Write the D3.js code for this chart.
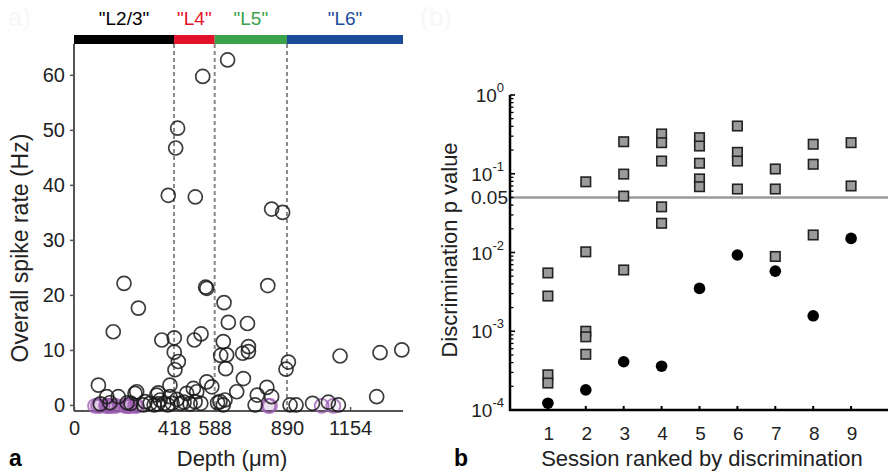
<!DOCTYPE html>
<html>
<head>
<meta charset="utf-8">
<script src="https://cdn.jsdelivr.net/npm/d3@7"></script>
<style>
  html, body { margin: 0; padding: 0; background: #fff; }
  svg { display: block; font-family: "Liberation Sans", Arial, sans-serif; }
</style>
</head>
<body>
<svg id="fig" width="888" height="475"></svg>
<script>
// ---- Panel a: spike rate vs depth ----
const layerNames = ['"L2/3"', '"L4"', '"L5"', '"L6"'];
const layerBounds = [0, 418, 588, 890, 1375];
const layerColors = ["#000000", "#e3122b", "#3aa24a", "#1c4b9a"];
const depthTicks = [0, 418, 588, 890, 1154];
const rateTicks = [0, 10, 20, 30, 40, 50, 60];

// units shown as black open circles: depth (um) and rate (Hz)
const unitDepth = [642, 538, 433, 425, 394, 507, 826, 872,
  209, 550, 555, 810, 269, 627, 645, 725,
  164, 367, 419, 503, 531, 419, 436, 422,
  624, 613, 638, 705, 729, 729, 634,
  708, 680, 766, 806, 826, 757, 896, 886,
  903, 928, 997, 1063, 1105, 1112, 1265, 1279, 1370,
  102, 137, 185, 255, 262, 297, 318, 346, 360, 352, 401, 401, 376, 410, 446,
  471, 499, 513, 506, 555, 576, 610, 631, 624,
  110, 150, 222, 238, 290, 335, 350, 392, 430, 460, 485, 530, 600];
const unitRate = [62.7, 59.7, 50.3, 46.7, 38.1, 37.8, 35.6, 35.0,
  22.1, 21.4, 21.2, 21.7, 17.6, 18.6, 15.0, 14.8,
  13.3, 11.8, 12.2, 11.8, 12.9, 9.6, 7.9, 6.4,
  11.5, 9.0, 9.1, 9.4, 10.6, 9.7, 6.6,
  4.8, 2.4, 1.8, 3.2, 1.5, 0, 7.8, 6.5,
  0, 0, 0.3, 0.5, 0, 8.9, 1.5, 9.5, 10.0,
  3.6, 1.5, 1.5, 2.1, 2.4, 0.6, 0.3, 1.8, 0.9, 2.2, 3.6, 1.5, 0.3, 0.3, 0.3,
  2.1, 3.0, 2.4, 0.6, 4.2, 3.3, 0.6, 0.9, 0,
  0.2, 0.4, 0.4, 0.3, 0, 0, 0.2, 0, 1.0, 0.5, 0.2, 0.3, 0.4];
// silent units (purple), rate 0
const silentDepth = [88, 100, 109, 134, 140, 146, 152, 163, 176, 213, 220, 226, 232, 238, 255, 263, 812, 819, 1035, 1084];

// ---- Panel b: discrimination p values by session ----
const sessions = [1, 2, 3, 4, 5, 6, 7, 8, 9];
const shuffledP = [
  [0.0055, 0.0028, 2.8e-4, 2.2e-4],
  [0.079, 0.0102, 1.0e-3, 8.5e-4, 5.1e-4],
  [0.255, 0.099, 0.052, 0.006],
  [0.32, 0.248, 0.145, 0.038, 0.0235],
  [0.287, 0.225, 0.136, 0.086, 0.0685],
  [0.404, 0.187, 0.145, 0.064],
  [0.115, 0.064, 0.0089],
  [0.237, 0.132, 0.0167],
  [0.248, 0.070]
];
const sessionP = [1.22e-4, 1.8e-4, 4.1e-4, 3.6e-4, 3.5e-3, 0.0093, 0.0058, 1.57e-3, 0.0151];
const pThreshold = 0.05;
const pMajorTicks = [1, 0.1, 0.01, 0.001, 0.0001];
const pExponents = ["0", "-1", "-2", "-3", "-4"];

const svg = d3.select("#fig");

// faint panel marks left in the page corners
svg.append("text").attr("x", 8).attr("y", 26).attr("font-size", 26).attr("fill", "#f7f7f7").text("a)");
svg.append("text").attr("x", 420).attr("y", 26).attr("font-size", 26).attr("fill", "#f7f7f7").text("(b)");

// ===== panel a =====
const xA = d3.scaleLinear().domain([0, 1375]).range([74, 403]);
const yA = d3.scaleLinear().domain([-1.1, 65.6]).range([411, 44]);

const gA = svg.append("g");

// layer bar
const layers = layerNames.map((n, i) => ({ name: n, x0: layerBounds[i], x1: layerBounds[i + 1], color: layerColors[i] }));
gA.selectAll("rect.layer").data(layers).join("rect")
  .attr("class", "layer")
  .attr("x", d => xA(d.x0)).attr("width", d => xA(d.x1) - xA(d.x0))
  .attr("y", 35).attr("height", 9)
  .attr("fill", d => d.color);
gA.selectAll("text.layer").data(layers).join("text")
  .attr("class", "layer")
  .attr("x", d => (xA(d.x0) + xA(d.x1)) / 2)
  .attr("y", 25)
  .attr("text-anchor", "middle")
  .attr("font-size", 19)
  .attr("fill", d => d.color)
  .text(d => d.name);

// layer borders
gA.selectAll("line.border").data(layerBounds.slice(1, 4)).join("line")
  .attr("class", "border")
  .attr("x1", d => xA(d)).attr("x2", d => xA(d))
  .attr("y1", 44).attr("y2", 411)
  .attr("stroke", "#888").attr("stroke-width", 2).attr("stroke-dasharray", "4,3");

// axes
const axisColor = "#555";
const yAxisA = gA.append("g").attr("transform", "translate(74,0)")
  .call(d3.axisLeft(yA).tickValues(rateTicks).tickSize(4).tickSizeOuter(0).tickPadding(5));
const xAxisA = gA.append("g").attr("transform", "translate(0,411)")
  .call(d3.axisBottom(xA).tickValues(depthTicks).tickFormat(d3.format("d")).tickSize(-4).tickSizeOuter(0).tickPadding(10));
[yAxisA, xAxisA].forEach(g => {
  g.select(".domain").attr("stroke", axisColor).attr("stroke-width", 2);
  g.selectAll(".tick line").attr("stroke", axisColor).attr("stroke-width", 1.5);
  g.selectAll(".tick text").attr("font-size", 20).attr("fill", "#222").attr("font-family", "Liberation Sans, Arial, sans-serif");
});
yAxisA.select(".domain").attr("d", "M0,44V411");
xAxisA.select(".domain").attr("d", "M74,0H403");

gA.append("text")
  .attr("transform", "translate(28,248) rotate(-90)")
  .attr("text-anchor", "middle").attr("font-size", 23).attr("fill", "#222")
  .text("Overall spike rate (Hz)");
gA.append("text")
  .attr("x", 232).attr("y", 466)
  .attr("text-anchor", "middle").attr("font-size", 22).attr("fill", "#222")
  .text("Depth (\u03BCm)");
gA.append("text").attr("x", 9).attr("y", 466).attr("font-size", 23).attr("font-weight", "bold").text("a");

// silent units
gA.selectAll("circle.silent").data(silentDepth).join("circle")
  .attr("class", "silent")
  .attr("cx", d => xA(d)).attr("cy", yA(0) + 1)
  .attr("r", 7)
  .attr("fill", "rgba(125,55,150,0.08)")
  .attr("stroke", "#9d5fb4").attr("stroke-width", 1.8).attr("stroke-opacity", 0.8);

// responsive units
gA.selectAll("circle.unit").data(d3.zip(unitDepth, unitRate)).join("circle")
  .attr("class", "unit")
  .attr("cx", d => xA(d[0])).attr("cy", d => yA(d[1]))
  .attr("r", 7)
  .attr("fill", "none")
  .attr("stroke", "#1a1a1a").attr("stroke-width", 1.7).attr("stroke-opacity", 0.85);

// ===== panel b =====
const xB = d3.scaleLinear().domain([0, 10]).range([510, 889]);
const yB = d3.scaleLog().domain([1e-4, 1]).range([410, 95]);
const gB = svg.append("g");

// threshold line
gB.append("line")
  .attr("x1", xB(0)).attr("x2", 888)
  .attr("y1", yB(pThreshold)).attr("y2", yB(pThreshold))
  .attr("stroke", "#9a9a9a").attr("stroke-width", 2.5);

// log y axis with minor ticks pointing inward
const minorTicks = yB.ticks(40).filter(v => !pMajorTicks.some(m => Math.abs(m - v) / m < 1e-6));
gB.selectAll("line.minor").data(minorTicks).join("line")
  .attr("class", "minor")
  .attr("x1", xB(0)).attr("x2", xB(0) + 3.5)
  .attr("y1", d => yB(d)).attr("y2", d => yB(d))
  .attr("stroke", "#000").attr("stroke-width", 1.3);
gB.selectAll("line.major").data(pMajorTicks).join("line")
  .attr("class", "major")
  .attr("x1", xB(0)).attr("x2", xB(0) + 5)
  .attr("y1", d => yB(d)).attr("y2", d => yB(d))
  .attr("stroke", "#000").attr("stroke-width", 1.6);
gB.append("line")
  .attr("x1", xB(0)).attr("x2", xB(0))
  .attr("y1", yB(1)).attr("y2", yB(1e-4) + 1)
  .attr("stroke", "#000").attr("stroke-width", 2.5);

const yLabels = gB.selectAll("text.ylab").data(pMajorTicks).join("text")
  .attr("class", "ylab")
  .attr("x", 504).attr("y", d => yB(d) + 7)
  .attr("text-anchor", "end").attr("font-size", 19).attr("fill", "#222");
yLabels.append("tspan").text("10");
yLabels.append("tspan").attr("dy", -10).attr("font-size", 13).text((d, i) => pExponents[i]);
gB.append("text")
  .attr("x", 508).attr("y", yB(pThreshold) + 7)
  .attr("text-anchor", "end").attr("font-size", 19).attr("fill", "#222")
  .text("0.05");

// x axis
gB.append("line")
  .attr("x1", xB(0) - 1).attr("x2", 888)
  .attr("y1", yB(1e-4)).attr("y2", yB(1e-4))
  .attr("stroke", "#000").attr("stroke-width", 2.5);
gB.selectAll("line.xtick").data(sessions).join("line")
  .attr("class", "xtick")
  .attr("x1", d => xB(d)).attr("x2", d => xB(d))
  .attr("y1", yB(1e-4)).attr("y2", yB(1e-4) - 4)
  .attr("stroke", "#000").attr("stroke-width", 2);
gB.selectAll("text.xlab").data(sessions).join("text")
  .attr("class", "xlab")
  .attr("x", d => xB(d) + 1).attr("y", 440)
  .attr("text-anchor", "middle").attr("font-size", 19).attr("fill", "#222")
  .text(d => d);

gB.append("text")
  .attr("transform", "translate(457,250) rotate(-90)")
  .attr("text-anchor", "middle").attr("font-size", 22).attr("fill", "#222")
  .text("Discrimination p value");
gB.append("text")
  .attr("x", 702).attr("y", 466)
  .attr("text-anchor", "middle").attr("font-size", 22).attr("fill", "#222")
  .text("Session ranked by discrimination");
gB.append("text").attr("x", 454).attr("y", 466).attr("font-size", 23).attr("font-weight", "bold").text("b");

// shuffled-control p values (grey squares)
const sq = 9.5;
const squares = sessions.flatMap((s, i) => shuffledP[i].map(p => ({ s, p })));
gB.selectAll("rect.shuf").data(squares).join("rect")
  .attr("class", "shuf")
  .attr("x", d => xB(d.s) - sq / 2).attr("y", d => yB(d.p) - sq / 2)
  .attr("width", sq).attr("height", sq)
  .attr("fill", "#9b9b9b").attr("stroke", "#222").attr("stroke-width", 1.6);

// session p values (black dots)
gB.selectAll("circle.sess").data(d3.zip(sessions, sessionP)).join("circle")
  .attr("class", "sess")
  .attr("cx", d => xB(d[0])).attr("cy", d => yB(d[1]))
  .attr("r", 5.8).attr("fill", "#000");
</script>
</body>
</html>
